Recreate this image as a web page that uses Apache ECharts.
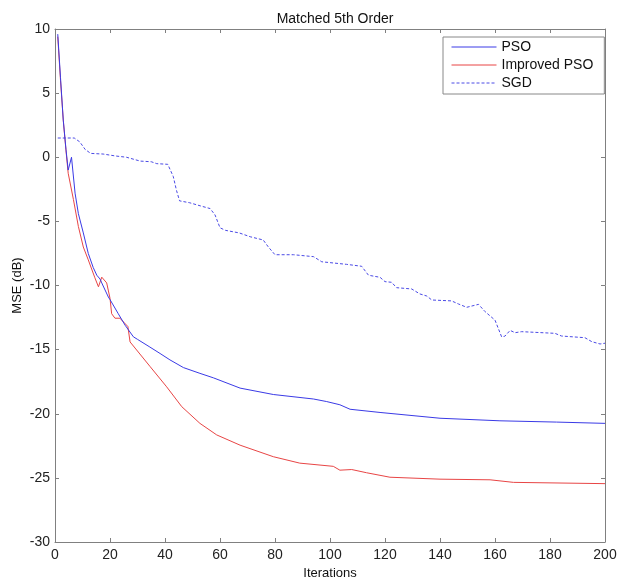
<!DOCTYPE html>
<html>
<head>
<meta charset="utf-8">
<script src="https://cdn.jsdelivr.net/npm/echarts@6/dist/echarts.min.js"></script>
<style>html,body{margin:0;padding:0;background:#fff}#c{width:619px;height:580px}</style>
</head>
<body>
<div id="c"></div>
<script>
var title = 'Matched 5th Order';
var seriesNames = ['PSO', 'Improved PSO', 'SGD'];
var xTicks = [0, 20, 40, 60, 80, 100, 120, 140, 160, 180, 200];
var yTicks = [-30, -25, -20, -15, -10, -5, 0, 5, 10];

var psoIter = [1, 2, 3, 4, 4.8, 6, 7.3, 8.5, 10.3, 10.9, 12.1, 13.9, 15.2, 16.4, 17, 19.4, 20, 23, 25.5, 28.5, 30, 34.5, 38.2, 41.8, 46.7, 52.7, 57.6, 67.3, 79.4, 94, 98.8, 103.6, 107.3, 118.2, 140, 161.8, 182.4, 200];
var psoMse = [9.6, 6.2, 2.9, 0.6, -1.0, 0.0, -2.8, -4.4, -5.9, -5.9, -7.5, -8.6, -9.2, -9.5, -9.8, -10.9, -11.1, -12.2, -13.1, -14.0, -14.2, -14.8, -15.3, -15.8, -16.4, -16.85, -17.2, -18.0, -18.5, -18.85, -19.05, -19.3, -19.65, -19.9, -20.35, -20.55, -20.65, -20.75];

var ipsoIter = [1, 2, 3, 4, 4.8, 6.7, 8.5, 10.3, 12.1, 14.5, 15.8, 16.4, 17, 18.8, 20, 20.6, 21.8, 23.6, 26.5, 27.3, 34.5, 40.6, 46.1, 52.7, 58.8, 67.3, 79.4, 89, 101.2, 103.6, 107.9, 113.3, 121.8, 140, 158.2, 166.7, 200];
var ipsoMse = [9.4, 6.0, 2.9, 0.5, -1.25, -3.3, -5.4, -7.0, -8.0, -9.4, -10.1, -10.1, -9.35, -9.8, -11.0, -12.2, -12.55, -12.55, -13.2, -14.4, -16.3, -17.9, -19.45, -20.75, -21.65, -22.45, -23.35, -23.85, -24.1, -24.4, -24.35, -24.6, -24.95, -25.1, -25.15, -25.35, -25.45];

var sgdIter = [1, 7, 9, 11, 13, 17.5, 22, 26, 31, 35, 37, 41, 43, 44.2, 45.3, 49, 53, 56.4, 58.2, 60, 62, 67, 71, 75.7, 77.6, 80, 86.7, 94, 97, 106, 111.5, 114, 118.2, 120, 122.4, 124.2, 129.7, 132.7, 135.2, 137, 144.2, 146.7, 149.7, 154, 156.4, 160, 162.4, 163.6, 165.5, 167.3, 169.7, 181.8, 184.2, 192.7, 195.2, 198.2, 200];
var sgdMse = [1.5, 1.5, 1.2, 0.6, 0.3, 0.25, 0.1, 0.0, -0.3, -0.35, -0.5, -0.55, -1.5, -2.6, -3.4, -3.55, -3.8, -4.0, -4.5, -5.5, -5.7, -5.9, -6.2, -6.45, -7.0, -7.6, -7.6, -7.75, -8.15, -8.35, -8.5, -9.2, -9.36, -9.7, -9.75, -10.17, -10.27, -10.66, -10.82, -11.13, -11.2, -11.44, -11.7, -11.47, -12.04, -12.7, -14.0, -13.95, -13.5, -13.68, -13.6, -13.73, -13.94, -14.07, -14.38, -14.56, -14.5];

function pairs(xs, ys) { return xs.map(function (x, i) { return [x, ys[i]]; }); }

var FONT = 'Liberation Sans, Arial, sans-serif';
var axisGray = '#808080';

function xAxisDef(pos, showLabels) {
  return {
    type: 'value', position: pos, min: xTicks[0], max: xTicks[xTicks.length - 1], interval: 20,
    name: showLabels ? 'Iterations' : '', nameLocation: 'middle', nameGap: 25,
    nameTextStyle: { color: '#111', fontSize: 13, fontFamily: FONT },
    axisLine: { show: true, onZero: false, lineStyle: { color: axisGray, width: 1 } },
    axisTick: { show: true, inside: true, length: 4, lineStyle: { color: axisGray } },
    axisLabel: { show: showLabels, color: '#222', fontSize: 14, fontFamily: FONT, margin: 6 },
    splitLine: { show: false }
  };
}
function yAxisDef(pos, showLabels) {
  return {
    type: 'value', position: pos, min: yTicks[0], max: yTicks[yTicks.length - 1], interval: 5,
    name: showLabels ? 'MSE (dB)' : '', nameLocation: 'middle', nameGap: 31, nameMoveOverlap: false,
    nameTextStyle: { color: '#111', fontSize: 13, fontFamily: FONT },
    axisLine: { show: true, onZero: false, lineStyle: { color: axisGray, width: 1 } },
    axisTick: { show: true, inside: true, length: 4, lineStyle: { color: axisGray } },
    axisLabel: { show: showLabels, color: '#222', fontSize: 14, fontFamily: FONT, margin: 5 },
    splitLine: { show: false }
  };
}

var chart = echarts.init(document.getElementById('c'), null, { renderer: 'canvas' });
chart.setOption({
  backgroundColor: '#fff',
  animation: false,
  title: { text: title, left: 330, textAlign: 'center', top: 7, textStyle: { color: '#111', fontSize: 14, fontWeight: 'normal', fontFamily: FONT } },
  grid: { left: 55, right: 14, top: 29, bottom: 38, containLabel: false, outerBoundsMode: 'none' },
  legend: {
    orient: 'vertical', left: 443, top: 37,
    data: seriesNames,
    borderColor: '#888', borderWidth: 1, padding: [3, 11, 4, 8], itemGap: 4,
    itemWidth: 45, itemHeight: 14,
    itemStyle: { opacity: 0, borderWidth: 0 },
    lineStyle: { width: 1 },
    textStyle: { color: '#111', fontSize: 14, fontFamily: FONT },
    backgroundColor: '#fff'
  },
  xAxis: [xAxisDef('bottom', true), xAxisDef('top', false)],
  yAxis: [yAxisDef('left', true), yAxisDef('right', false)],
  series: [
    { name: seriesNames[0], type: 'line', data: pairs(psoIter, psoMse), showSymbol: false, symbol: 'none',
      lineStyle: { color: '#3a3ae6', width: 1 }, itemStyle: { color: '#3a3ae6' }, z: 3 },
    { name: seriesNames[1], type: 'line', data: pairs(ipsoIter, ipsoMse), showSymbol: false, symbol: 'none',
      lineStyle: { color: '#e84545', width: 1 }, itemStyle: { color: '#e84545' }, z: 2 },
    { name: seriesNames[2], type: 'line', data: pairs(sgdIter, sgdMse), showSymbol: false, symbol: 'none',
      lineStyle: { color: '#4a4ae6', width: 1, type: [3, 2] }, itemStyle: { color: '#4a4ae6' }, z: 2 }
  ]
});
</script>
</body>
</html>
